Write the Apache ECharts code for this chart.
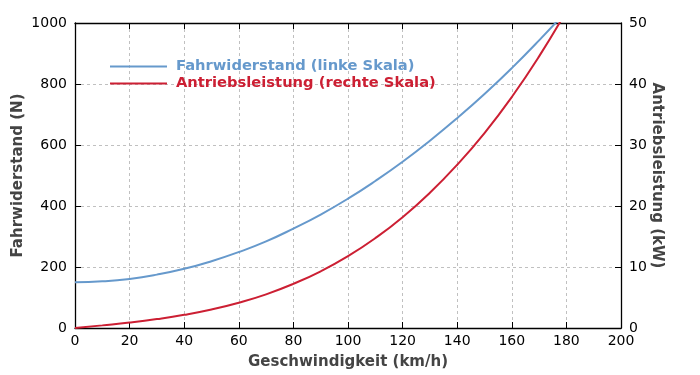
<!DOCTYPE html>
<html><head><meta charset="utf-8">
<script src="https://cdn.jsdelivr.net/npm/echarts@6/dist/echarts.min.js"></script>
<style>html,body{margin:0;padding:0;background:#fff}#c{width:700px;height:375px}</style>
</head><body><div id="c"></div>
<script>
var speeds = [0,10,20,30,40,50,60,70,80,90,100,110,120,130,140,150,160,170,180];
var widerstand = [150,153,161,175,194,219,249,284,326,372,424,482,545,614,688,767,852,943,1039];
var leistung = [0,0.43,0.89,1.46,2.16,3.04,4.15,5.52,7.24,9.3,11.78,14.73,18.17,22.17,26.76,31.96,37.87,44.53,51.95];
var nameW = 'Fahrwiderstand (linke Skala)';
var nameP = 'Antriebsleistung (rechte Skala)';
var blue = '#6699cc', red = '#cc1f33';
var font = 'DejaVu Sans';
var chart = echarts.init(document.getElementById('c'));
var gridLine = {show:true, lineStyle:{color:'#c0c0c0', type:[3,3], width:1}};
var axisLine = {show:true, onZero:false, lineStyle:{color:'#000', width:1.3}};
var tick = {show:true, inside:true, length:6, lineStyle:{color:'#000'}};
var plain = function(v){ return String(v); };
chart.setOption({
  animation:false,
  textStyle:{fontFamily:font},
  grid:{left:75, right:79, top:23, bottom:47, containLabel:false, outerBoundsMode:'none'},
  legend:{
    orient:'vertical', left:105, top:54, itemWidth:57, itemHeight:2, itemGap:2,
    icon:'rect',
    data:[{name:nameW, textStyle:{color:blue}}, {name:nameP, textStyle:{color:red}}],
    textStyle:{fontFamily:font, fontSize:14.7, fontWeight:'bold', padding:[0,0,0,4]}
  },
  xAxis:[{
    type:'value', min:0, max:200, interval:20,
    name:'Geschwindigkeit (km/h)', nameLocation:'middle', nameGap:27, nameMoveOverlap:false,
    nameTextStyle:{fontFamily:font, fontSize:15, fontWeight:'bold', color:'#444'},
    axisLine:axisLine, axisTick:tick,
    axisLabel:{color:'#000', fontSize:14, fontFamily:font, margin:6, formatter:plain},
    splitLine:gridLine
  },{
    type:'value', min:0, max:200, interval:20, position:'top',
    axisLine:axisLine, axisTick:tick,
    axisLabel:{show:false}, splitLine:{show:false}
  }],
  yAxis:[{
    type:'value', min:0, max:1000, interval:200,
    name:'Fahrwiderstand (N)', nameLocation:'middle', nameGap:49, nameRotate:90, nameMoveOverlap:false,
    nameTextStyle:{fontFamily:font, fontSize:15, fontWeight:'bold', color:'#444'},
    axisLine:axisLine, axisTick:tick,
    axisLabel:{color:'#000', fontSize:14, fontFamily:font, margin:8, formatter:plain},
    splitLine:gridLine
  },{
    type:'value', min:0, max:50, interval:10, position:'right',
    name:'Antriebsleistung (kW)', nameLocation:'middle', nameGap:28, nameRotate:-90, nameMoveOverlap:false,
    nameTextStyle:{fontFamily:font, fontSize:15, fontWeight:'bold', color:'#444'},
    axisLine:axisLine, axisTick:tick,
    axisLabel:{color:'#000', fontSize:14, fontFamily:font, margin:8, formatter:plain},
    splitLine:{show:false}
  }],
  series:[{
    name:nameW, type:'line', yAxisIndex:0, smooth:true, showSymbol:false, symbol:'none',
    data:speeds.map(function(v,i){return [v, widerstand[i]];}),
    itemStyle:{color:blue}, lineStyle:{color:blue, width:2}
  },{
    name:nameP, type:'line', yAxisIndex:1, smooth:true, showSymbol:false, symbol:'none',
    data:speeds.map(function(v,i){return [v, leistung[i]];}),
    itemStyle:{color:red}, lineStyle:{color:red, width:2}
  }]
});
</script></body></html>
